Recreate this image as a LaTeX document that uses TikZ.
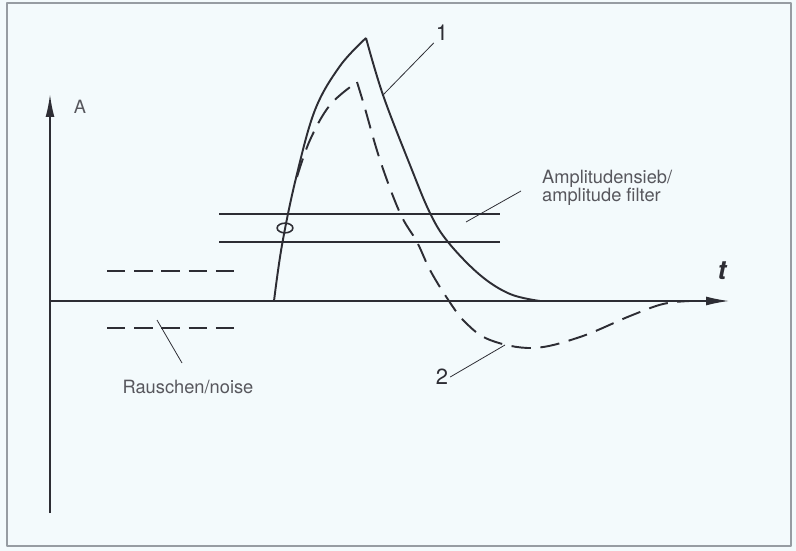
\documentclass[tikz,border=0pt]{standalone}
\usepackage{fontspec}
\setmainfont{TeX Gyre Heros}
\usetikzlibrary{arrows.meta,shapes.geometric}
\definecolor{paper}{RGB}{243,250,252}
\definecolor{ink}{RGB}{45,45,52}
\definecolor{framegray}{RGB}{150,156,162}

\begin{document}
\begin{tikzpicture}[x=0.02cm, y=-0.02cm, line join=round,
    signal/.style={ink, line width=1.1pt},
    signaltwo/.style={ink, line width=1.1pt, dash pattern=on 11pt off 5.5pt},
    noiseline/.style={ink, line width=1.1pt, dash pattern=on 10.5pt off 5pt},
    leader/.style={ink, line width=0.45pt},
    axis/.style={ink, line width=0.7pt, -{Latex[length=13pt,width=5pt]}},
    lbl/.style={text=ink!80, inner sep=1pt, font=\fontsize{10.4}{10.3}\selectfont},
    numlbl/.style={text=ink, inner sep=1pt, font=\fontsize{12.5}{12.5}\selectfont}]
      \fill[paper] (0,0) rectangle (796,551);
      \draw[framegray, line width=0.8pt] (7,3) rectangle (791,546);

      % axes
      \coordinate (o) at (50,301);
      \coordinate (ytop) at (50,94);
      \coordinate (ybot) at (50,513);
      \coordinate (xend) at (729,301);
      \draw[axis, line width=1pt] (ybot) -- (ytop);
      \draw[axis] (o) -- (xend);
      \node[lbl] (amp) at (80,107) {A};
      \node[text=ink, inner sep=1pt, font=\fontsize{15}{15}\selectfont\bfseries\itshape] (time) at (722,271) {t};

      % curve 1 (solid)
      \coordinate (rise) at (274,301);
      \coordinate (peak) at (366,38);
      \coordinate (back) at (540,301);
      \draw[signal] (o) -- (rise)
        plot[smooth, tension=0.6] coordinates {(274,301) (282,245) (296,178) (315,110) (340,66) (366,38)}
        plot[smooth, tension=0.6] coordinates {(366,38) (383,95) (410,165) (430,213) (448,242) (480,275) (510,294) (540,301)}
        -- (687,301);

      % curve 2 (dashed)
      \draw[signaltwo] plot[smooth, tension=0.6] coordinates {(297,177) (310,140) (330,105) (357,82)}
        plot[smooth, tension=0.6] coordinates {(357,82) (364,105) (380,160) (400,213) (417,242) (430,270) (447,298) (465,322) (490,340) (533,348) (580,337) (630,316) (663,304) (690,301)};

      % amplitude filter
      \coordinate (fu1) at (219,214);
      \coordinate (fu2) at (500,214);
      \coordinate (fl1) at (219,242);
      \coordinate (fl2) at (500,242);
      \draw[signal] (fu1) -- (fu2);
      \draw[signal] (fl1) -- (fl2);
      \node[ink, draw, line width=0.9pt, ellipse, inner sep=0pt,
            minimum width=9pt, minimum height=5.5pt] (ring) at (285,228) {};

      % noise
      \coordinate (nu1) at (107,271);
      \coordinate (nu2) at (237,271);
      \coordinate (nl1) at (107,328);
      \coordinate (nl2) at (237,328);
      \draw[noiseline] (nu1) -- (nu2);
      \draw[noiseline] (nl1) -- (nl2);

      % labels
      \node[numlbl] (one) at (442,33) {1};
      \node[numlbl] (two) at (442,377) {2};
      \node[lbl, align=left, anchor=west] (filt) at (540,188) {Amplitudensieb/\\amplitude filter};
      \node[lbl] (noise) at (188,387) {Rauschen/noise};

      \coordinate (onept) at (383,95);
      \coordinate (twopt) at (505,345);
      \coordinate (filtfrom) at (521,191);
      \coordinate (filtpt) at (466,222);
      \coordinate (noisefrom) at (182,363);
      \coordinate (noisept) at (157,320);
      \draw[leader] (one.south west) -- (onept);
      \draw[leader] (two.east) -- (twopt);
      \draw[leader] (filtfrom) -- (filtpt);
      \draw[leader] (noisefrom) -- (noisept);
    \end{tikzpicture}
\end{document}
